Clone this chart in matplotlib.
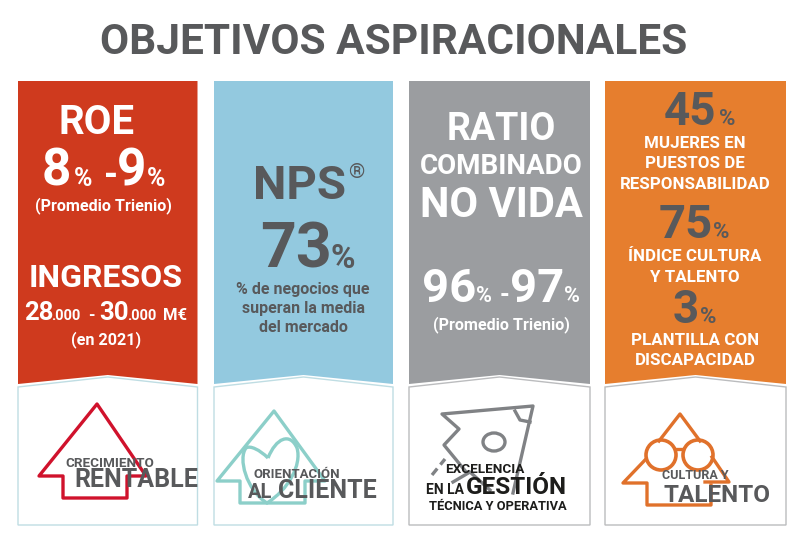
import matplotlib
matplotlib.use("Agg")
import matplotlib.pyplot as plt
from matplotlib.patches import Polygon, Ellipse, Circle, PathPatch
from matplotlib.path import Path

plt.rcParams['font.family'] = ['Roboto', 'DejaVu Sans']

title = "OBJETIVOS ASPIRACIONALES"
roe_label = "ROE"
roe_low, roe_high = "8", "9"
roe_note = "(Promedio Trienio)"
ingresos_label = "INGRESOS"
ingresos_low, ingresos_high = "28", "30"
ingresos_note = "(en 2021)"
nps_label = "NPS"
nps_value = "73"
nps_lines = ["% de negocios que", "superan la media", "del mercado"]
ratio_lines = ["RATIO", "COMBINADO", "NO VIDA"]
ratio_low, ratio_high = "96", "97"
ratio_note = "(Promedio Trienio)"
talent_values = ["45", "75", "3"]
talent_lines = [["MUJERES EN", "PUESTOS DE", "RESPONSABILIDAD"],
                ["ÍNDICE CULTURA", "Y TALENTO"],
                ["PLANTILLA CON", "DISCAPACIDAD"]]

panel_left = [18, 214, 409, 605]
panel_right = [197.5, 393, 590, 786]
panel_colors = ["#CF3A1E", "#93C9DF", "#9B9DA0", "#E67E2E"]
box_colors = ["#BFDDE3", "#BFDDE3", "#BBBCBE", "#BBBCBE"]

DARK = "#58595B"
WHITE = "#FFFFFF"

fig = plt.figure(figsize=(8, 5.44), dpi=100)
ax = fig.add_axes([0, 0, 1, 1])
ax.set_xlim(0, 800)
ax.set_ylim(544, 0)
ax.axis("off")


# y is the baseline, size is about the cap height in px
def txt(x, y, s, size, color=WHITE, ha="center", weight="bold"):
    ax.text(x, y, s, fontsize=size, color=color, ha=ha, va="baseline", fontweight=weight)


for l, r, c, b in zip(panel_left, panel_right, panel_colors, box_colors):
    mid = (l + r) / 2
    ax.add_patch(Polygon([(l, 81), (r, 81), (r, 384), (mid, 375), (l, 384)], fc=c, ec="none"))
    ax.add_patch(Polygon([(l, 387), (mid, 377), (r, 387), (r, 525), (l, 525)], fc="white", ec=b, lw=1))

txt(394, 54, title, 30.5, DARK)

# red panel
txt(97, 134, roe_label, 29)
txt(42, 186, roe_low, 37, ha="left")
txt(74, 186, "%", 18, ha="left")
txt(104, 186, "-", 26, ha="left")
txt(117, 186, roe_high, 37, ha="left")
txt(147, 186, "%", 18, ha="left")
txt(103, 210, roe_note, 11.6)
txt(106, 287, ingresos_label, 23)
txt(24, 320, ingresos_low, 18.5, ha="left")
txt(51, 320, ".000", 10.5, ha="left")
txt(88, 320, "-", 12, ha="left")
txt(99, 320, ingresos_high, 18.5, ha="left")
txt(127, 320, ".000", 10.5, ha="left")
txt(163, 320, "M€", 12, ha="left")
txt(106, 344, ingresos_note, 11.6)

# blue panel
txt(253, 199, nps_label, 34, DARK, ha="left")
txt(348, 178, "®", 15, DARK, ha="left", weight="normal")
txt(260, 268, nps_value, 45, DARK, ha="left")
txt(331, 268, "%", 24, DARK, ha="left")
for y, line in zip([294, 313, 332], nps_lines):
    txt(303, y, line, 11.5, DARK)

# grey panel
for y, line, size in zip([140, 174, 217], ratio_lines, [27, 20, 30]):
    txt(501, y, line, size)
txt(422, 302, ratio_low, 34, ha="left")
txt(476, 302, "%", 15.5, ha="left")
txt(500, 302, "-", 18, ha="left")
txt(510, 302, ratio_high, 34, ha="left")
txt(564, 302, "%", 15.5, ha="left")
txt(501, 329, ratio_note, 11.6)

# orange panel
for x, xp, y, s, size in zip([664, 659, 673], [719, 713, 700], [125, 238, 323], talent_values, [33, 34, 33]):
    txt(x, y, s, size, DARK, ha="left")
    txt(xp, y, "%", 16, DARK, ha="left")
for ys, lines in zip([[148, 168, 189], [261, 282], [345, 365]], talent_lines):
    for y, line in zip(ys, lines):
        txt(695, y, line, 12.2)

# logo 1
red_house = [(97, 404), (39, 476), (63, 476), (63, 498), (127, 498), (127, 476), (146, 476), (97, 404)]
ax.add_patch(Polygon(red_house, fc="none", ec="#D0122C", lw=2.4, joinstyle="round"))
txt(65, 467, "CRECIMIENTO", 9.7, DARK, ha="left")
txt(74, 487, "RENTABLE", 18, DARK, ha="left")

# logo 2
teal = "#8CCFC9"
blue_house = [(274, 411), (217, 481), (240, 481), (240, 503), (305, 503), (305, 481), (325, 481), (274, 411)]
ax.add_patch(Polygon(blue_house, fc="none", ec=teal, lw=2.4, joinstyle="round"))
heart = Path([(268, 458), (260, 450), (250, 445), (246, 448), (238, 458), (246, 490), (267, 503),
              (288, 490), (302, 465), (297, 448), (290, 432), (276, 438), (268, 458)],
             [Path.MOVETO] + [Path.CURVE4] * 12)
ax.add_patch(PathPatch(heart, fc="none", ec=teal, lw=2.4))
txt(253, 478, "ORIENTACIÓN", 9.5, DARK, ha="left")
txt(248, 498, "AL", 14.5, DARK, ha="left")
txt(278, 498, "CLIENTE", 18, DARK, ha="left")

# logo 3
shape_grey = "#808285"
ax.plot([467, 444, 459, 442, 533, 513], [473, 445, 429, 414, 406, 493], color=shape_grey, lw=2.4)
ax.plot([515, 520, 530], [411, 420, 422], color=shape_grey, lw=2.4)
ax.plot([432, 445], [475, 459], color=shape_grey, lw=2.4, ls=(0, (2.5, 1.5)))
ax.plot([453, 470, 490], [482, 472, 490], color=shape_grey, lw=2.4)
ax.add_patch(Ellipse((494, 442), 22, 18, fc="none", ec=shape_grey, lw=2.4))
black = "#1D1D1B"
txt(445, 473, "EXCELENCIA", 9.7, black, ha="left")
txt(426, 494, "EN LA", 10, black, ha="left")
txt(466, 494, "GESTIÓN", 17.5, black, ha="left")
txt(429, 510, "TÉCNICA Y OPERATIVA", 9.3, black, ha="left")

# logo 4
orange = "#E0712B"
ax.plot([659, 680, 700], [441, 414, 441], color=orange, lw=2.4)
ax.plot([645, 623, 647, 647, 711, 711], [460, 483, 483, 505, 505, 485], color=orange, lw=2.4)
ax.plot([712, 729, 705], [457, 482, 482], color=orange, lw=2.4)
ax.add_patch(Circle((661, 455), 15, fc="none", ec=orange, lw=2.6))
ax.add_patch(Circle((698, 455), 15, fc="none", ec=orange, lw=2.6))
ax.plot([676, 683], [449, 449], color=orange, lw=2.4)
txt(662, 479, "CULTURA Y", 9, DARK, ha="left")
txt(664, 502, "TALENTO", 17.5, DARK, ha="left")

fig.savefig("out.png", dpi=100)
